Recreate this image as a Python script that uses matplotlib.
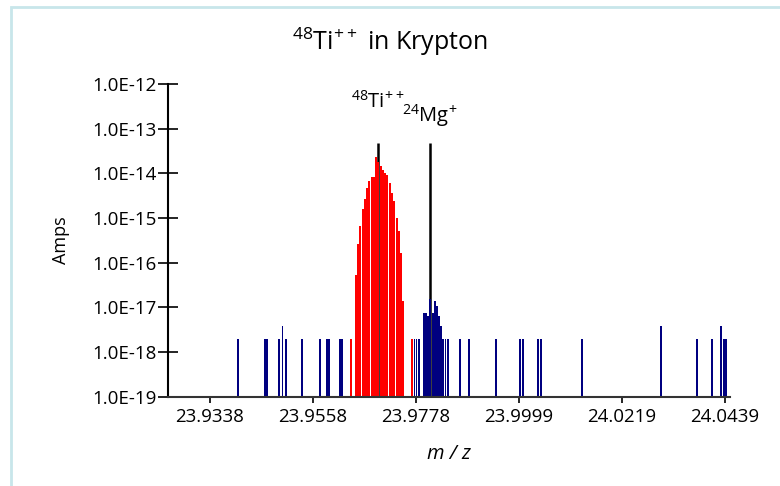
import matplotlib
matplotlib.use("Agg")
import matplotlib.pyplot as plt
from matplotlib.patches import Rectangle

plt.rcParams['font.family'] = ['Open Sans', 'DejaVu Sans']
plt.rcParams['mathtext.default'] = 'regular'
plt.rcParams['mathtext.fontset'] = 'custom'
plt.rcParams['mathtext.rm'] = 'Open Sans'

# ---- data ----
blue_mz = [23.93970, 23.94550, 23.94590, 23.94860, 23.94930, 23.95000, 23.95350,
           23.95730, 23.95880, 23.95920, 23.96160, 23.96200,
           23.97752, 23.97795, 23.97838, 23.97955, 23.97998, 23.98041, 23.98083,
           23.98148, 23.98190, 23.98233, 23.98276, 23.98319, 23.98361, 23.98415,
           23.98468, 23.98725, 23.98907, 23.99490, 24.00008, 24.00065, 24.00392,
           24.00450, 24.01333, 24.03018, 24.03787, 24.04112, 24.04300, 24.04369,
           24.04416]
blue_amps = [1.9e-18, 1.9e-18, 1.9e-18, 1.9e-18, 3.8e-18, 1.9e-18, 1.9e-18,
             1.9e-18, 1.9e-18, 1.9e-18, 1.9e-18, 1.9e-18,
             1.9e-18, 1.9e-18, 1.9e-18, 7.6e-18, 7.6e-18, 6.2e-18, 1.5e-17,
             7.6e-18, 1.35e-17, 1.04e-17, 6.2e-18, 3.8e-18, 1.9e-18, 1.9e-18,
             1.9e-18, 1.9e-18, 1.9e-18, 1.9e-18, 1.9e-18, 1.9e-18, 1.9e-18,
             1.9e-18, 1.9e-18, 3.8e-18, 1.9e-18, 1.9e-18, 3.8e-18, 1.9e-18,
             1.9e-18]

red_mz = [23.96394, 23.96506, 23.96548, 23.96591, 23.96651, 23.96694, 23.96736,
          23.96779, 23.96843, 23.96886, 23.96929, 23.96972, 23.97036, 23.97079,
          23.97121, 23.97171, 23.97228, 23.97271, 23.97314, 23.97378, 23.97421,
          23.97463, 23.97506, 23.97699]
red_amps = [1.9e-18, 5.4e-17, 2.6e-16, 6.5e-16, 1.55e-15, 2.6e-15, 4.6e-15,
            6.6e-15, 8.1e-15, 8.1e-15, 2.3e-14, 1.77e-14, 1.44e-14, 1.17e-14,
            1.0e-14, 9.0e-15, 5.97e-15, 3.56e-15, 2.36e-15, 9.8e-16, 5.0e-16,
            1.6e-16, 1.35e-17, 1.9e-18]

peak_labels = [r"$^{48}$Ti$^{++}$", r"$^{24}$Mg$^{+}$"]
peak_mz = [23.96972, 23.98083]
peak_amps = [4.7e-14, 4.7e-14]

x_ticks = [23.9338, 23.9558, 23.9778, 23.9999, 24.0219, 24.0439]
x_ticklabels = ["23.9338", "23.9558", "23.9778", "23.9999", "24.0219", "24.0439"]
y_ticks = [1e-19, 1e-18, 1e-17, 1e-16, 1e-15, 1e-14, 1e-13, 1e-12]
y_ticklabels = ["1.0E-19", "1.0E-18", "1.0E-17", "1.0E-16", "1.0E-15",
                "1.0E-14", "1.0E-13", "1.0E-12"]

W, H = 780, 486
fig = plt.figure(figsize=(W / 100, H / 100), dpi=100)
ax = fig.add_axes([168 / W, (H - 396.5) / H, (730 - 168) / W, (396.5 - 84) / H])
ax.set_yscale('log')
ax.set_xlim(23.92482, 24.04497)
ax.set_ylim(1e-19, 1e-12)

base = 1e-19
ax.vlines(peak_mz, base, peak_amps, colors='black', linewidth=1.8, zorder=1)
ax.bar(blue_mz, [a - base for a in blue_amps], width=0.00042, bottom=base,
       color='#000080', linewidth=0, zorder=2)
ax.bar(red_mz, [a - base for a in red_amps], width=0.00039, bottom=base,
       color='#ff0000', linewidth=0, zorder=2)

for lab, mz, y in zip(peak_labels, peak_mz, [2.9e-13, 1.45e-13]):
    ax.text(mz, y, lab, ha='center', va='baseline', fontsize=14.5, zorder=3)

ax.set_xticks(x_ticks)
ax.set_xticklabels(x_ticklabels, fontsize=13.5)
ax.set_yticks(y_ticks)
ax.set_yticklabels(y_ticklabels, fontsize=13.5)
ax.yaxis.set_minor_locator(matplotlib.ticker.NullLocator())
ax.tick_params(axis='y', direction='inout', length=15, width=1.2, pad=1)
ax.tick_params(axis='x', direction='out', length=4, width=1.2, pad=4)
for s in ['top', 'right']:
    ax.spines[s].set_visible(False)
ax.spines['left'].set_linewidth(1.5)
ax.spines['bottom'].set_linewidth(1.5)
ax.spines['bottom'].set_color('#333333')

ax.set_ylabel("Amps", fontsize=13)
ax.set_xlabel("m / z", fontsize=14.5, style='italic')
ax.yaxis.set_label_coords(-98 / (730 - 168), 0.5)
ax.xaxis.set_label_coords(0.5, -47 / (396.5 - 84))

fig.text(0.5, 1 - 42 / H, r"$^{48}$Ti$^{++}$ in Krypton", ha='center',
         va='center', fontsize=18)

fig.patches.append(Rectangle((11 / W, -0.1), 1.2, (H - 7) / H + 0.1,
                             transform=fig.transFigure, fill=False,
                             edgecolor='#c8e6ea', linewidth=2))

fig.savefig("out.png", dpi=100)
